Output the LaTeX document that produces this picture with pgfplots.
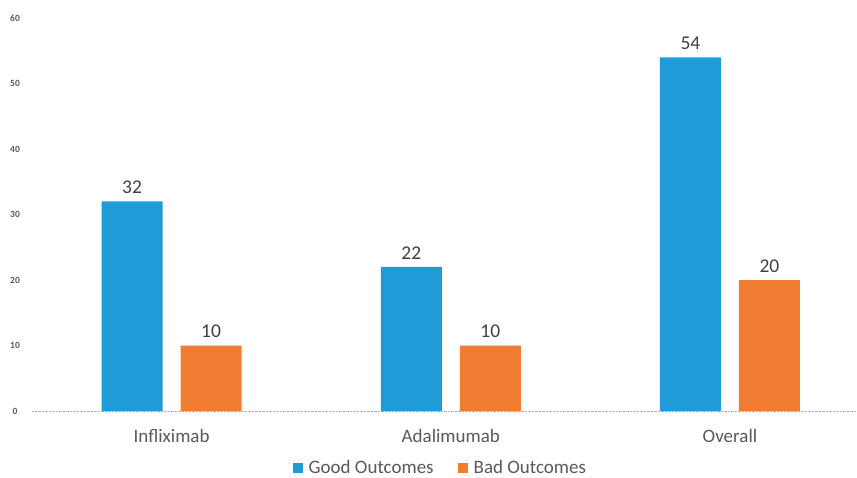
\documentclass[border=0pt]{standalone}
\usepackage{pgfplots}
\pgfplotsset{compat=1.18}
\usepackage{fontspec}
\setmainfont{Carlito}
\definecolor{cblue}{HTML}{1F9BD7}
\definecolor{corange}{HTML}{F07D32}
\definecolor{tgray}{HTML}{595959}
\definecolor{lgray}{HTML}{404040}
\begin{document}
\begin{tikzpicture}[x=1pt,y=1pt]
\useasboundingbox (0,0) rectangle (857,477);
\begin{axis}[
  at={(32pt,66pt)}, anchor=south west,
  scale only axis,
  width=825pt, height=393pt,
  xmin=-0.5, xmax=2.455,
  ymin=0, ymax=60,
  ytick={0,10,20,30,40,50,60},
  xtick={0,1,2},
  xticklabels={Infliximab,Adalimumab,Overall},
  axis line style={draw=none},
  major tick length=0pt,
  /pgf/number format/assume math mode=true,
  yticklabel style={font=\fontsize{9.5}{10}\selectfont\bfseries, text=tgray, xshift=-17pt, anchor=center},
  xticklabel style={font=\fontsize{19}{21}\selectfont, text=tgray, yshift=-15pt},
  extra y ticks={0},
  extra y tick labels={},
  extra y tick style={grid=major, grid style={densely dotted, gray!60, line width=0.8pt}},
  ybar=18pt, bar width=61pt,
  nodes near coords,
  every node near coord/.append style={font=\fontsize{19.5}{21}\selectfont, text=lgray, yshift=4pt},
  legend style={at={(0.495,-0.115)}, anchor=north, draw=none, legend columns=2,
    font=\fontsize{19}{21}\selectfont, text=tgray, fill=none,
    /tikz/every odd column/.append style={column sep=4pt},
    /tikz/every even column/.append style={column sep=22pt}},
  legend image code/.code={\fill[#1] (0pt,-5pt) rectangle (10pt,5pt);},
  clip=false,
]
\addplot[fill=cblue, draw=none] coordinates {(0,32) (1,22) (2,54)};
\addplot[fill=corange, draw=none] coordinates {(0,10) (1,10) (2,20)};
\legend{Good Outcomes, Bad Outcomes}
\end{axis}
\end{tikzpicture}
\end{document}
